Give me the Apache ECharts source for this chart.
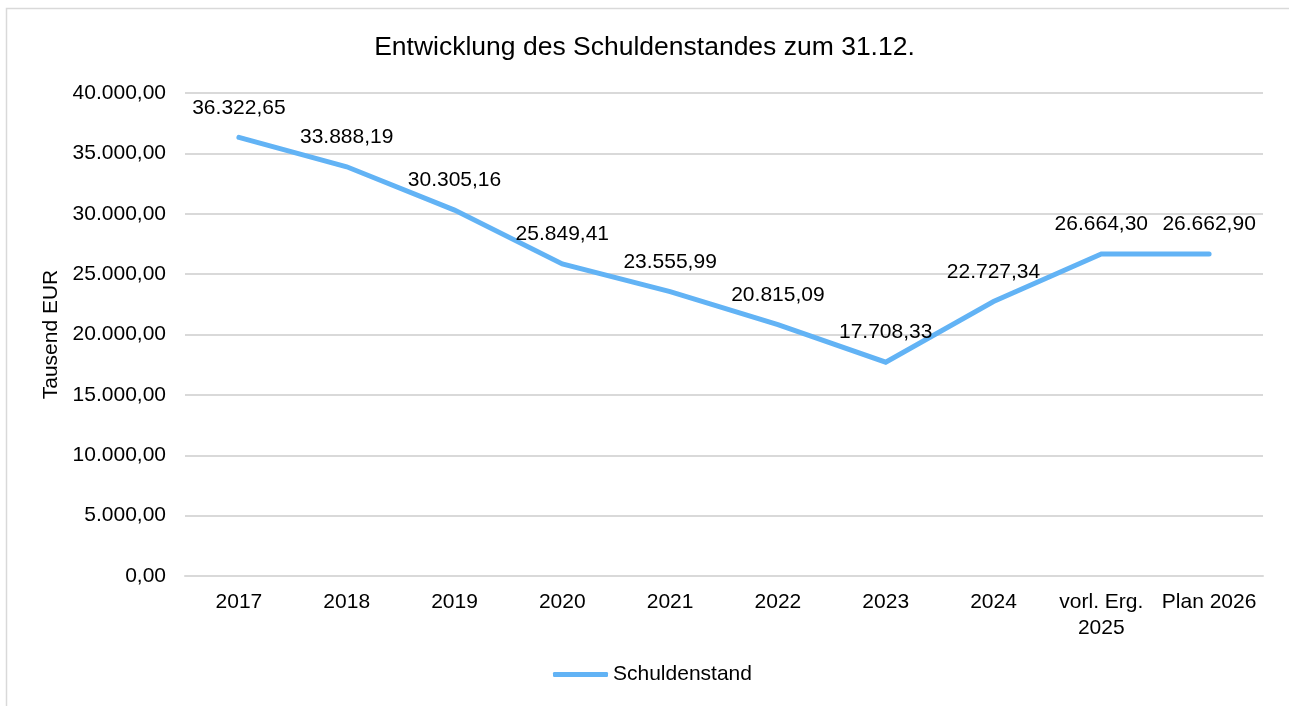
<!DOCTYPE html>
<html><head><meta charset="utf-8">
<script src="https://cdn.jsdelivr.net/npm/echarts@6/dist/echarts.min.js"></script>
<style>html,body{margin:0;padding:0;background:#fff}#c{width:1289px;height:706px}</style>
</head><body><div id="c"></div>
<script>
const categories = ['2017','2018','2019','2020','2021','2022','2023','2024','vorl. Erg.\n2025','Plan 2026'];
const values = [36322.65, 33888.19, 30305.16, 25849.41, 23555.99, 20815.09, 17708.33, 22727.34, 26664.30, 26662.90];
const seriesName = 'Schuldenstand';
const titleText = 'Entwicklung des Schuldenstandes zum 31.12.';
const yAxisName = 'Tausend EUR';

function fmt(v){
  const parts = v.toFixed(2).split('.');
  parts[0] = parts[0].replace(/\B(?=(\d{3})+(?!\d))/g, '.');
  return parts[0] + ',' + parts[1];
}
const FONT = '"Liberation Sans", Arial, sans-serif';
const FS = 21;
const LINE = '#62B3F5';
const chart = echarts.init(document.getElementById('c'));
chart.setOption({
  animation:false,
  textStyle:{fontFamily:FONT},
  graphic:[{type:'rect',shape:{x:6.5,y:8.5,width:2000,height:2000},style:{fill:'none',stroke:'#d9d9d9',lineWidth:1.5},silent:true}],
  title:{text:titleText,left:'center',top:29,textStyle:{fontFamily:FONT,fontSize:26.5,fontWeight:'normal',color:'#000'}},
  legend:{top:659,left:548,itemWidth:55,itemHeight:5,itemGap:4,
    icon:'roundRect',itemStyle:{color:LINE,opacity:1},
    textStyle:{fontFamily:FONT,fontSize:FS,color:'#000'},data:[seriesName]},
  grid:{left:185,right:26,top:93,bottom:130,containLabel:false},
  xAxis:{type:'category',data:categories,boundaryGap:true,
    axisLine:{lineStyle:{color:'#d9d9d9',width:2}},axisTick:{show:false},
    axisLabel:{fontFamily:FONT,fontSize:FS,color:'#000',margin:13,lineHeight:26,interval:0}},
  yAxis:{type:'value',min:0,max:40000,interval:5000,
    name:yAxisName,nameLocation:'middle',nameGap:120,nameRotate:90,
    nameTextStyle:{fontFamily:FONT,fontSize:FS,color:'#000'},
    axisLine:{show:false},axisTick:{show:false},
    splitLine:{lineStyle:{color:'#d9d9d9',width:2}},
    axisLabel:{fontFamily:FONT,fontSize:FS,color:'#000',margin:19,formatter:v=>fmt(v)}},
  series:[{name:seriesName,type:'line',data:values,symbol:'circle',symbolSize:0.1,showSymbol:true,
    lineStyle:{color:LINE,width:5,cap:'round',join:'miter'},
    itemStyle:{color:LINE},
    label:{show:true,position:'top',distance:19,fontFamily:FONT,fontSize:FS,color:'#000',formatter:p=>fmt(p.value)}}]
});
</script></body></html>
